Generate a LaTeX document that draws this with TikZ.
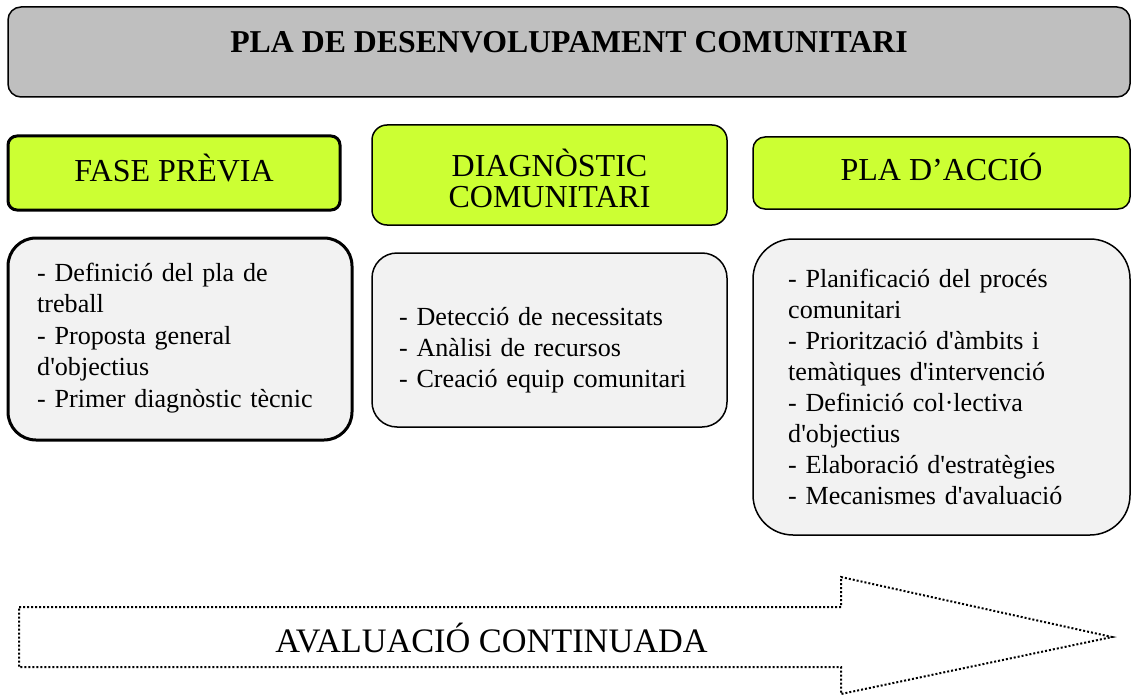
\documentclass[tikz,border=0pt]{standalone}
\usepackage{fontspec}
\setmainfont{Liberation Serif}
\newcommand{\apos}{\textquotesingle}
\definecolor{titlegray}{HTML}{BFBFBF}
\definecolor{phasegreen}{HTML}{CCFF33}
\definecolor{bodygray}{HTML}{F2F2F2}
\tikzset{
  panel/.style={draw=black, rectangle, rounded corners=#1, inner sep=0pt, outer sep=0pt, anchor=north west},
  thinline/.style={line width=1.5pt},
  thickline/.style={line width=3pt},
  headtext/.style={font=\fontsize{32}{30}\selectfont, inner sep=0pt, anchor=base},
  bodytext/.style={font=\fontsize{26.1}{#1}\selectfont, inner sep=0pt, anchor=base west, text width=330pt, align=left},
  dotline/.style={line width=2pt, dash pattern=on 2pt off 2pt}
}
\begin{document}
\begin{tikzpicture}[x=1pt,y=-1pt]
\useasboundingbox (0,0) rectangle (1131,695);

% title
\node[panel=13pt, thinline, fill=titlegray, minimum width=1122pt, minimum height=90pt] (title) at (8,7) {};
\node[anchor=base, inner sep=0pt, font=\bfseries\fontsize{31.8}{38}\selectfont] (titletext) at (569,53) {PLA DE DESENVOLUPAMENT COMUNITARI};

% phase headers
\node[panel=9pt, thickline, fill=phasegreen, minimum width=332pt, minimum height=74pt] (fase) at (8,136) {};
\node[headtext] (fasetext) at (174,182) {FASE PRÈVIA};

\node[panel=15pt, thinline, fill=phasegreen, minimum width=355pt, minimum height=100pt] (diag) at (372,125) {};
\node[headtext, text width=330pt, align=center] (diagtext) at (549.5,177) {DIAGNÒSTIC\\COMUNITARI};

\node[panel=12pt, thinline, fill=phasegreen, minimum width=377pt, minimum height=72pt] (pla) at (753,137) {};
\node[headtext] (platext) at (941.5,180) {PLA D’ACCIÓ};

% bodies
\node[panel=28pt, thickline, fill=bodygray, minimum width=344pt, minimum height=202pt] (faseb) at (8,238) {};
\node[bodytext=31.5] (fasebtext) at (37,281) {- Definició del pla de\\treball\\- Proposta general\\d\apos objectius\\- Primer diagnòstic tècnic};

\node[panel=25pt, thinline, fill=bodygray, minimum width=355pt, minimum height=174pt] (diagb) at (372,253) {};
\node[bodytext=31] (diagbtext) at (399,325) {- Detecció de necessitats\\- Anàlisi de recursos\\- Creació equip comunitari};

\node[panel=40pt, thinline, fill=bodygray, minimum width=377pt, minimum height=296pt] (plab) at (753,239) {};
\node[bodytext=31] (plabtext) at (788,287) {- Planificació del procés\\comunitari\\- Priorització d\apos àmbits i\\temàtiques d\apos intervenció\\- Definició col·lectiva\\d\apos objectius\\- Elaboració d\apos estratègies\\- Mecanismes d\apos avaluació};

% evaluation arrow
\draw[dotline] (19,607) -- (841,607) -- (841,577) -- (1112,637) -- (841,694) -- (841,667) -- (19,667) -- cycle;
\node[anchor=base, inner sep=0pt, font=\fontsize{34.3}{40}\selectfont] (evaltext) at (491.5,652) {AVALUACIÓ CONTINUADA};
\end{tikzpicture}
\end{document}
